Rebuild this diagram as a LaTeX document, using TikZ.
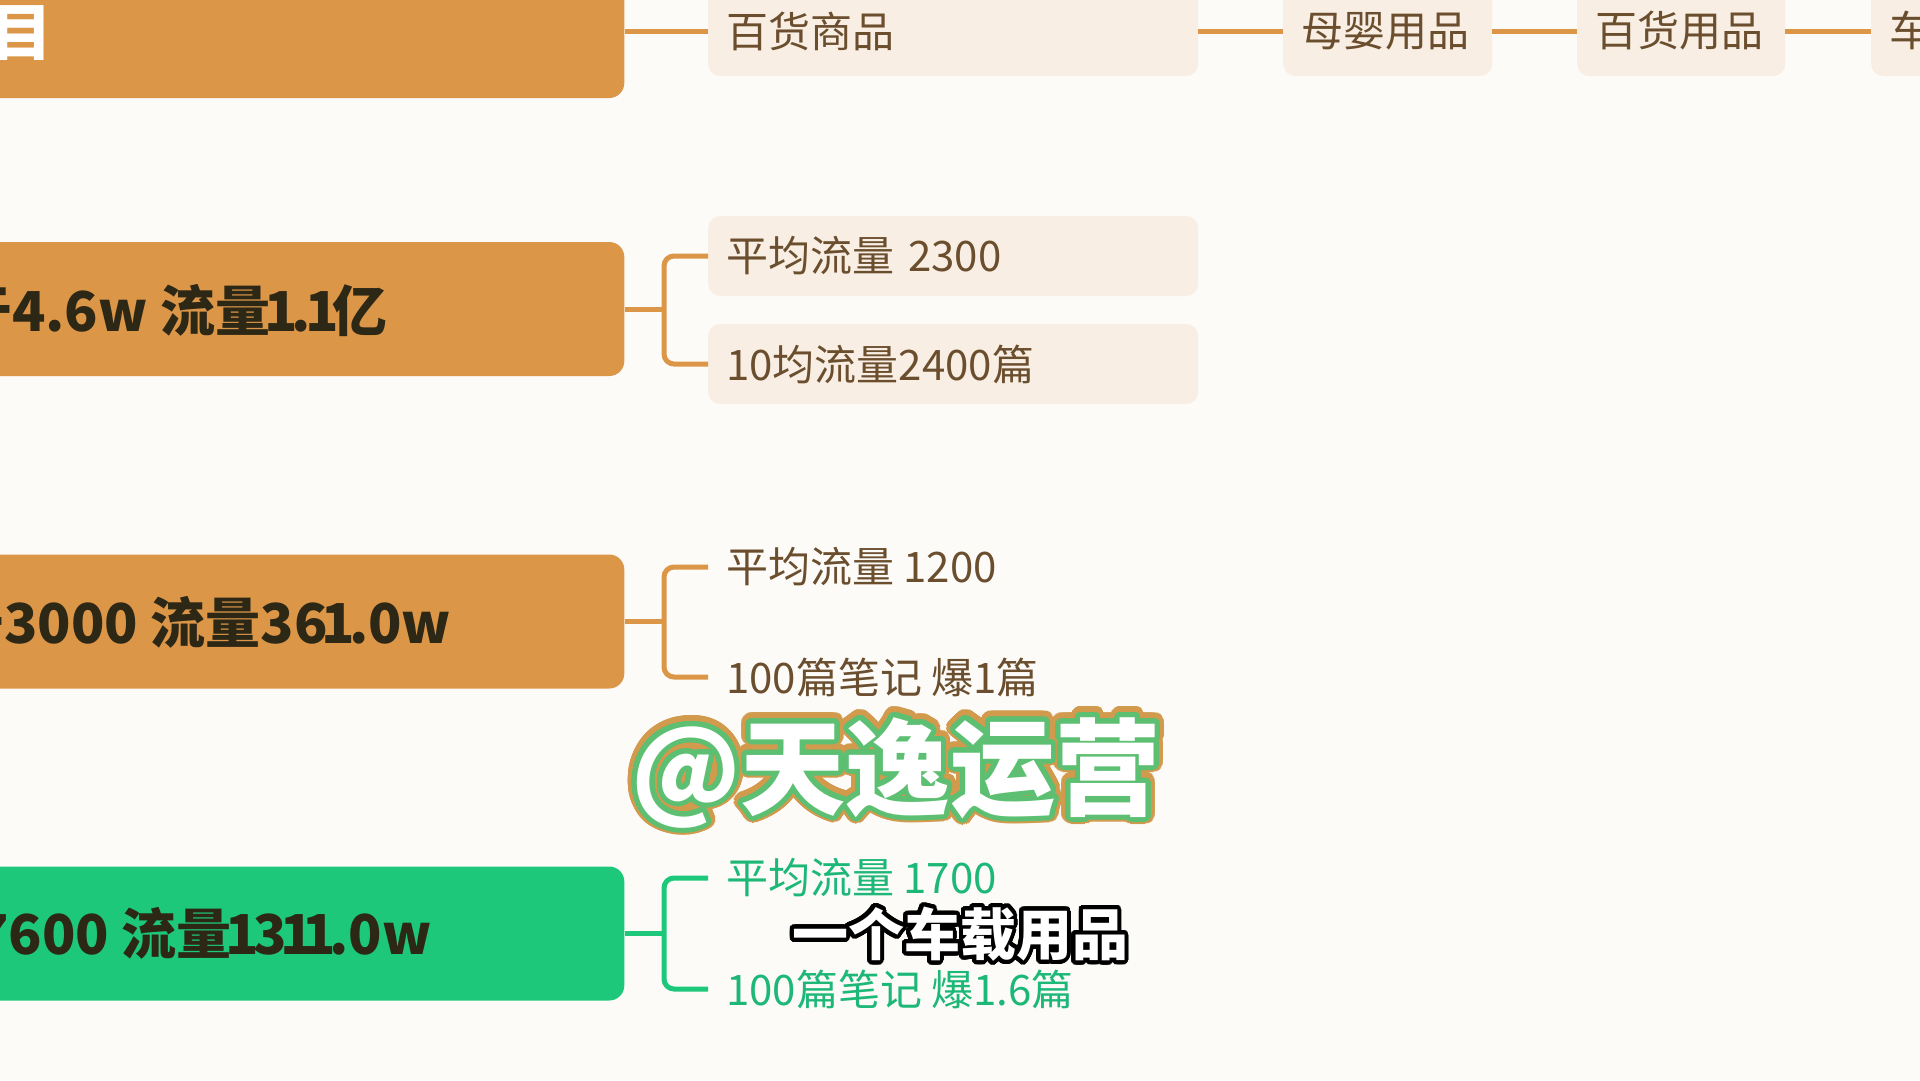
\documentclass[tikz,border=0pt]{standalone}
\usepackage{fontspec}
\setmainfont{Noto Sans CJK SC}
\usepackage{contour}
\contournumber{48}
\newcommand\narone{\kern-0.11em 1\kern-0.11em}
\definecolor{bg}{HTML}{FCFBF8}
\definecolor{org}{HTML}{DB9648}
\definecolor{grn}{HTML}{1DC87B}
\definecolor{ink}{HTML}{2D2716}
\definecolor{lite}{HTML}{F8EEE3}
\definecolor{ctext}{HTML}{6B4E2E}
\definecolor{gtext}{HTML}{1DB877}
\definecolor{wmo}{HTML}{D19A4C}
\definecolor{wmg}{HTML}{5DBF72}
\begin{document}
\begin{tikzpicture}[x=1pt,y=-1pt,
  mainbox/.style={fill=#1, rounded corners=15pt, minimum height=134pt, minimum width=760pt, anchor=east, inner sep=0pt},
  maintext/.style={anchor=west, inner sep=0pt, text=ink, font=\fontsize{55}{60}\selectfont\bfseries},
  leaf/.style={anchor=west, inner xsep=18pt, inner ysep=0pt, text=ctext, font=\fontsize{42}{48}\selectfont, align=left},
  leafbox/.style={leaf, fill=lite, rounded corners=12pt, minimum height=80pt},
  conn/.style={draw=#1, line width=5pt},
]
\useasboundingbox (0,0) rectangle (1920,1080);
\fill[bg] (0,0) rectangle (1920,1080);
\clip (0,0) rectangle (1920,1080);

% ---- row 1
\node[mainbox=org] (b1) at (624.5,31) {};
\node[anchor=east, inner sep=0pt, text=white, font=\fontsize{62}{66}\selectfont\bfseries] (b1t) at (53,33) {目};
\node[leafbox, minimum height=90pt, text width=454pt] (t1) at (708,31) {百货商品};
\node[leafbox, minimum height=90pt, text width=173pt] (t2) at (1283,31) {母婴用品};
\node[leafbox, minimum height=90pt, text width=172pt] (t3) at (1577,31) {百货用品};
\node[leafbox, minimum height=90pt, text width=173pt] (t4) at (1871,31) {车载用品};
\draw[conn=org] (b1.east) -- (t1.west);
\draw[conn=org] (t1.east) -- (t2.west);
\draw[conn=org] (t2.east) -- (t3.west);
\draw[conn=org] (t3.east) -- (t4.west);

% ---- row 2
\node[mainbox=org] (b2) at (624.5,309) {};
\node[maintext] (b2t) at (-43,310) {于4.6w 流量\narone.\narone 亿};
\node[leafbox, text width=454pt] (c21) at (708,256) {平均流量 2300};
\node[leafbox, text width=454pt] (c22) at (708,364) {10均流量2400篇};
\draw[conn=org] (b2.east) -- (664,309);
\draw[conn=org, rounded corners=10pt] (c21.west) -| (664,309) |- (c22.west);

% ---- row 3
\node[mainbox=org] (b3) at (624.5,621.5) {};
\node[maintext] (b3t) at (-51,622) {于3000 流量36\narone.0w};
\node[leaf] (c31) at (708,567) {平均流量 1200};
\node[leaf] (c32) at (708,677) {100篇笔记 爆1篇};
\draw[conn=org] (b3.east) -- (664,621.5);
\draw[conn=org, rounded corners=10pt] (c31.west) -| (664,621.5) |- (c32.west);

% ---- row 4
\node[mainbox=grn] (b4) at (624.5,933.5) {};
\node[maintext] (b4t) at (-25,933) {7600 流量\narone 3\narone\narone.0w};
\node[leaf, text=gtext] (c41) at (708,878) {平均流量 1700};
\node[leaf, text=gtext] (c42) at (708,989) {100篇笔记 爆1.6篇};
\draw[conn=grn] (b4.east) -- (664,933.5);
\draw[conn=grn, rounded corners=10pt] (c41.west) -| (664,933.5) |- (c42.west);

% ---- overlays
\node[inner sep=0pt, text=white, font=\fontsize{105}{115}\selectfont\bfseries] (wm) at (896,775) {\contourlength{9pt}\contour{wmo}{@天逸运营}};
\node[inner sep=0pt, text=white, font=\fontsize{105}{115}\selectfont\bfseries] (wm2) at (wm) {\contourlength{5pt}\contour{wmg}{@天逸运营}};
\node[inner sep=0pt, text=white, font=\fontsize{56}{60}\selectfont\bfseries] (sub) at (960,936) {\contourlength{4pt}\contour{black}{一个车载用品}};
\end{tikzpicture}
\end{document}
